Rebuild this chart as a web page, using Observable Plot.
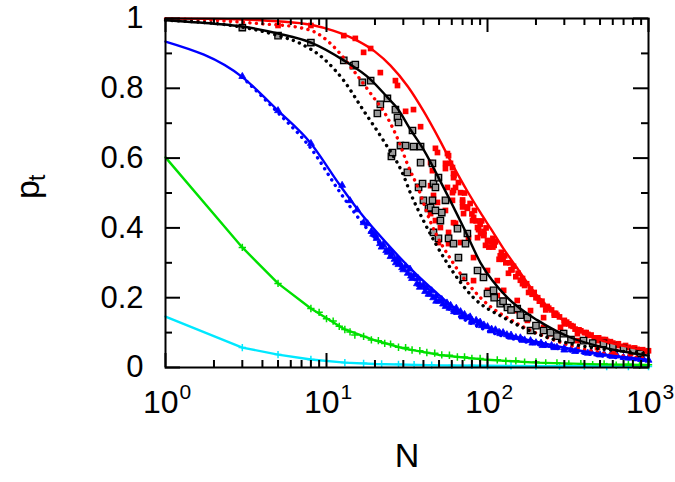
<!DOCTYPE html>
<html><head><meta charset="utf-8">
<script src="https://cdn.jsdelivr.net/npm/d3@7"></script>
<script src="https://cdn.jsdelivr.net/npm/@observablehq/plot@0.6"></script>
<style>body{margin:0;background:#fff}</style>
</head><body><div id="chart"></div>
<script>
// ---- axis ticks / labels ----
const xMajor = [1, 10, 100, 1000];
const xTickBase = "10";
const xTickExp = ["0", "1", "2", "3"];
const xMinor = [2,3,4,5,6,7,8,9,20,30,40,50,60,70,80,90,200,300,400,500,600,700,800,900];
const yMajor = [0, 0.2, 0.4, 0.6, 0.8, 1];
const yMinor = [0.1, 0.3, 0.5, 0.7, 0.9];
const yTickLabels = ["0", "0.2", "0.4", "0.6", "0.8", "1"];

// ---- curves ----
const redSolidN = [1, 2, 3, 5, 8, 11, 15, 20, 25, 32, 40, 50, 60, 75, 90, 105, 125, 150, 200, 250, 300, 400, 500, 700, 1000];
const redSolidP = [1.0, 0.999, 0.997, 0.992, 0.982, 0.965, 0.94, 0.905, 0.865, 0.805, 0.735, 0.655, 0.585, 0.505, 0.445, 0.397, 0.342, 0.29, 0.21, 0.163, 0.132, 0.098, 0.079, 0.062, 0.048];
const redDotN = [1, 2, 3.9, 6.6, 8.8, 11.7, 14.7, 18.8, 23.9, 28, 32, 37, 44, 61.5, 90.5, 153, 297, 1000];
const redDotP = [0.999, 0.995, 0.985, 0.975, 0.957, 0.908, 0.851, 0.785, 0.716, 0.65, 0.58, 0.515, 0.42, 0.298, 0.2, 0.126, 0.069, 0.026];
const blackSolidN = [1, 2, 3, 5, 8, 12.8, 18.8, 23.9, 27.6, 33.2, 40, 53.3, 71, 90.5, 133, 205, 328, 500, 1000];
const blackSolidP = [0.995, 0.985, 0.977, 0.957, 0.931, 0.88, 0.825, 0.774, 0.742, 0.682, 0.625, 0.516, 0.401, 0.3, 0.2, 0.135, 0.086, 0.06, 0.034];
const blackDotN = [1, 3, 5, 6.9, 9.6, 12.8, 17, 22.6, 30.1, 33.2, 40, 56.4, 81.9, 126, 236, 1000];
const blackDotP = [0.995, 0.975, 0.951, 0.928, 0.885, 0.822, 0.736, 0.65, 0.55, 0.5, 0.421, 0.298, 0.2, 0.143, 0.086, 0.04];
const blueSolidN = [1, 3, 5, 8, 12, 16, 23, 33, 48, 65, 100, 150, 236, 480, 1000];
const blueSolidP = [0.934, 0.832, 0.736, 0.642, 0.525, 0.447, 0.362, 0.285, 0.215, 0.163, 0.115, 0.088, 0.067, 0.04, 0.022];
const blueDotN = [3, 5, 8, 12, 16, 23, 33, 48, 65, 100, 150, 236, 480, 1000];
const blueDotP = [0.832, 0.73, 0.628, 0.505, 0.425, 0.34, 0.265, 0.197, 0.15, 0.105, 0.08, 0.06, 0.035, 0.02];
const greenN = [1, 3, 5, 8, 13, 20, 30, 50, 100, 200, 500, 1000];
const greenP = [0.602, 0.344, 0.241, 0.169, 0.109, 0.078, 0.055, 0.036, 0.022, 0.014, 0.009, 0.007];
const cyanN = [1, 3, 5, 8, 13, 20, 50, 100, 300, 1000];
const cyanP = [0.146, 0.057, 0.037, 0.023, 0.014, 0.01, 0.006, 0.005, 0.004, 0.003];

// ---- scatter data ----
const blueScN = [3,5,8,12.5,14,15.5,17,18,19,19.5,20.5,21.5,22,22.5,23.5,24.5,25,25.5,26.5,27.5,28,28.5,29.5,31,32,33,33.5,35,36.5,37,38,40,41,42,44,45,46,48,50,52,53,56,58,59,62,64,65,68,70,72,76,78,80,85,88,90,95,100,106,112,118,125,132,140,150,160,170,185,200,215,230,250,270,300,330,360,400,440,480,530,580,640,700,770,850,930,1000,
  20,24,27,30,34,38,43,48,55,62,70,80,92,105,120,140,165,190,220,260,300,350,420,500,600,750,900];
const blueScP = [0.834,0.736,0.642,0.522,0.478,0.452,0.415,0.412,0.39,0.382,0.37,0.355,0.345,0.352,0.335,0.338,0.318,0.326,0.31,0.312,0.295,0.3,0.286,0.29,0.27,0.282,0.262,0.265,0.24,0.255,0.238,0.236,0.218,0.228,0.21,0.22,0.2,0.205,0.19,0.195,0.182,0.185,0.17,0.178,0.165,0.17,0.158,0.16,0.148,0.152,0.142,0.145,0.135,0.135,0.126,0.13,0.122,0.117,0.11,0.108,0.101,0.1,0.094,0.093,0.086,0.085,0.079,0.077,0.071,0.07,0.064,0.063,0.058,0.056,0.051,0.05,0.045,0.044,0.039,0.038,0.034,0.033,0.029,0.028,0.025,0.024,0.021,
  0.38,0.33,0.3,0.28,0.255,0.23,0.21,0.19,0.175,0.16,0.145,0.13,0.12,0.105,0.097,0.087,0.078,0.07,0.063,0.057,0.05,0.046,0.041,0.036,0.032,0.027,0.023];
const redScN = [5,8,12.8,15.1,17,18.8,21.6,26.8,27.6,31,34.7,38.4,38.4,44.3,44.3,44.3,45.5,46.2,47.5,47.5,48.9,48.9,49.6,51,54.8,54.8,54.8,56.4,56.4,57.3,57.3,57.3,58.9,60.6,60.6,60.6,61.5,61.5,61.5,61.5,63.3,63.3,68,68,70,70,71,75,75,76.2,80,80.7,81.9,81.9,85,86.7,86.7,88,90,90.5,94.4,95,97.2,100,100,100,102,105,110,115,115,118,120,126,126,130,135,140,150,153,153,160,170,177,180,185,190,200,210,223,223,230,240,246,260,270,284,297,300,320,330,362,362,380,400,420,460,482,482,520,550,600,607,641,700,750,773,800,855,900,950,
  62,66,72,78,83,92,98,108,112,122,128,138,145,155,165,175,185,195,205,218,235,250,265,280,310,340,370,410,440,490,540,580,650,720,820,920,1000,
  70,82,95,108,125,142,165,190,220,260,300,350,420,500,600,700,850];
const redScP = [0.98,0.98,0.951,0.943,0.903,0.914,0.845,0.822,0.808,0.734,0.739,0.69,0.587,0.587,0.521,0.441,0.564,0.493,0.628,0.421,0.616,0.473,0.358,0.401,0.57,0.585,0.45,0.613,0.516,0.607,0.387,0.355,0.585,0.501,0.573,0.479,0.556,0.544,0.507,0.415,0.516,0.413,0.501,0.358,0.473,0.48,0.441,0.456,0.46,0.372,0.44,0.421,0.315,0.249,0.42,0.401,0.372,0.395,0.41,0.384,0.378,0.39,0.35,0.364,0.278,0.221,0.345,0.36,0.35,0.249,0.206,0.31,0.32,0.221,0.192,0.3,0.27,0.28,0.26,0.192,0.163,0.25,0.235,0.135,0.215,0.163,0.21,0.2,0.19,0.143,0.115,0.165,0.17,0.097,0.155,0.15,0.115,0.1,0.135,0.125,0.12,0.097,0.077,0.105,0.1,0.095,0.085,0.077,0.057,0.08,0.075,0.068,0.04,0.063,0.06,0.058,0.04,0.055,0.049,0.05,0.047,
  0.55,0.53,0.5,0.47,0.45,0.42,0.4,0.37,0.36,0.33,0.32,0.3,0.29,0.27,0.255,0.24,0.225,0.215,0.2,0.19,0.175,0.165,0.155,0.145,0.13,0.118,0.108,0.1,0.093,0.085,0.08,0.074,0.068,0.063,0.056,0.051,0.048,
  0.46,0.43,0.38,0.345,0.31,0.28,0.24,0.21,0.18,0.15,0.125,0.11,0.092,0.08,0.07,0.06,0.052];
const blackScN = [3,5,8,12.8,14.7,15.1,16.7,18.8,20.7,21.6,23.9,25.3,25.7,26.8,27.6,28,28.8,31,31.8,34.2,34.7,37.3,38.4,38.4,39.5,40,43,44.3,45.5,45.5,46.2,46.2,47.5,47.5,49.6,49.6,51,52,54.8,57.3,61.5,65.1,66,71,73,75,86.7,94.4,100,109,120,133,153,177,185,223,246,297,395,525,700,891,
  110,125,140,160,200,270,330,450,600,800];
const blackScP = [0.974,0.951,0.931,0.88,0.865,0.868,0.817,0.822,0.728,0.754,0.771,0.605,0.616,0.739,0.716,0.702,0.636,0.636,0.559,0.679,0.633,0.516,0.633,0.587,0.527,0.479,0.456,0.458,0.585,0.479,0.527,0.387,0.516,0.45,0.544,0.37,0.421,0.444,0.479,0.37,0.355,0.398,0.315,0.258,0.355,0.384,0.278,0.258,0.212,0.221,0.183,0.172,0.169,0.143,0.106,0.106,0.1,0.097,0.077,0.069,0.054,0.04,
  0.2,0.19,0.165,0.15,0.12,0.09,0.08,0.07,0.06,0.048];
const greenScN = [3,5,8,13,9,10,11,12,14,15,17,19,21,23,25,28,31,34,38,42,47,52,58,65,72,80,90,100,115,130,150,170,200,230,270,320,380,450,530,630,750,880,1000];
const greenScP = [0.344,0.241,0.169,0.109,0.158,0.14,0.133,0.118,0.102,0.093,0.089,0.079,0.077,0.069,0.067,0.058,0.057,0.05,0.048,0.043,0.041,0.036,0.035,0.03,0.03,0.026,0.026,0.022,0.022,0.018,0.019,0.015,0.016,0.013,0.013,0.01,0.011,0.008,0.01,0.007,0.009,0.006,0.008];
const cyanScN = [3,5,8,13,17,22,28,35,45,60,80,100,140,200,280,400,550,750,1000];
const cyanScP = [0.057,0.037,0.023,0.014,0.012,0.01,0.009,0.008,0.007,0.006,0.006,0.005,0.005,0.004,0.004,0.004,0.003,0.003,0.003];

const zip = (N, P) => N.map((n, i) => ({N: n, p: P[i]}));

const RED = "#ff0000", BLUE = "#0000ff", GREEN = "#00e000", CYAN = "#00e8ff";
const FH = 482 - 18 - 115, FW = 675 - 165 - 27;
const solid = (N, P, c) => Plot.line(zip(N, P), {x: "N", y: "p", stroke: c, strokeWidth: 2.4});
const dotted = (N, P, c) => Plot.line(zip(N, P), {x: "N", y: "p", stroke: c, strokeWidth: 3.4, strokeDasharray: "0.1,6.4", strokeLinecap: "round", curve: "monotone-x"});

const chart = Plot.plot({
  width: 675, height: 482,
  marginLeft: 165, marginRight: 27, marginTop: 18, marginBottom: 115,
  x: {type: "log", domain: [1, 1000], axis: null},
  y: {domain: [0, 1], axis: null},
  style: {fontFamily: "'Liberation Sans', Arial, sans-serif", background: "#fff", color: "#000"},
  marks: [
    // scatter data
    Plot.dot(zip(cyanScN, cyanScP), {x: "N", y: "p", symbol: "plus", r: 2.5, stroke: CYAN, strokeWidth: 1.5}),
    Plot.dot(zip(greenScN, greenScP), {x: "N", y: "p", symbol: "plus", r: 2.5, stroke: GREEN, strokeWidth: 1.5}),
    Plot.dot(zip(blueScN, blueScP), {x: "N", y: "p", symbol: "triangle", r: 2.6, fill: BLUE, stroke: BLUE, strokeWidth: 0.8}),
    Plot.dot(zip(redScN, redScP), {x: "N", y: "p", symbol: "square", r: 3.2, fill: RED}),
    Plot.dot(zip(blackScN, blackScP), {x: "N", y: "p", symbol: "square", r: 3.6, fill: "#9a9a9a", stroke: "#000", strokeWidth: 1.3}),
    // curves
    dotted(blueDotN, blueDotP, BLUE),
    dotted(redDotN, redDotP, RED),
    dotted(blackDotN, blackDotP, "#000"),
    solid(cyanN, cyanP, CYAN),
    solid(greenN, greenP, GREEN),
    Plot.line(zip(blueSolidN, blueSolidP), {x: "N", y: "p", stroke: BLUE, strokeWidth: 2.4, curve: "monotone-x"}),
    Plot.line(zip(redSolidN, redSolidP), {x: "N", y: "p", stroke: RED, strokeWidth: 2.4, curve: "monotone-x"}),
    Plot.line(zip(blackSolidN, blackSolidP), {x: "N", y: "p", stroke: "#000", strokeWidth: 2.4, curve: "monotone-x"}),
    // ticks (inward)
    Plot.tickX(xMajor, {x: d => d, insetTop: FH - 14, strokeWidth: 2}),
    Plot.tickX(xMajor, {x: d => d, insetBottom: FH - 14, strokeWidth: 2}),
    Plot.tickX(xMinor, {x: d => d, insetTop: FH - 7, strokeWidth: 2}),
    Plot.tickX(xMinor, {x: d => d, insetBottom: FH - 7, strokeWidth: 2}),
    Plot.tickY(yMajor, {y: d => d, insetRight: FW - 15, strokeWidth: 2}),
    Plot.tickY(yMajor, {y: d => d, insetLeft: FW - 15, strokeWidth: 2}),
    Plot.tickY(yMinor, {y: d => d, insetRight: FW - 7, strokeWidth: 2}),
    Plot.tickY(yMinor, {y: d => d, insetLeft: FW - 7, strokeWidth: 2}),
    Plot.frame({stroke: "#000", strokeWidth: 2}),
    // tick labels
    Plot.text(yMajor, {y: d => d, frameAnchor: "left", dx: -22, textAnchor: "end", text: (d, i) => yTickLabels[i], fontSize: 31, fill: "#000"}),
    Plot.text(xMajor, {x: d => d, frameAnchor: "bottom", dy: 45, dx: 13, textAnchor: "end", text: () => xTickBase, fontSize: 32, fill: "#000"}),
    Plot.text(xMajor, {x: d => d, frameAnchor: "bottom", dy: 31, dx: 14, textAnchor: "start", text: (d, i) => xTickExp[i], fontSize: 21, fill: "#000"}),
    // axis titles
    Plot.text(["N"], {frameAnchor: "bottom", dy: 99, fontSize: 34, fill: "#000"}),
    Plot.text(["p"], {frameAnchor: "left", dx: -137, dy: 6, rotate: -90, fontSize: 34, fill: "#000"}),
    Plot.text(["t"], {frameAnchor: "left", dx: -128, dy: -12, rotate: -90, textAnchor: "start", fontSize: 23, fill: "#000"})
  ]
});
document.getElementById("chart").appendChild(chart);
</script></body></html>
